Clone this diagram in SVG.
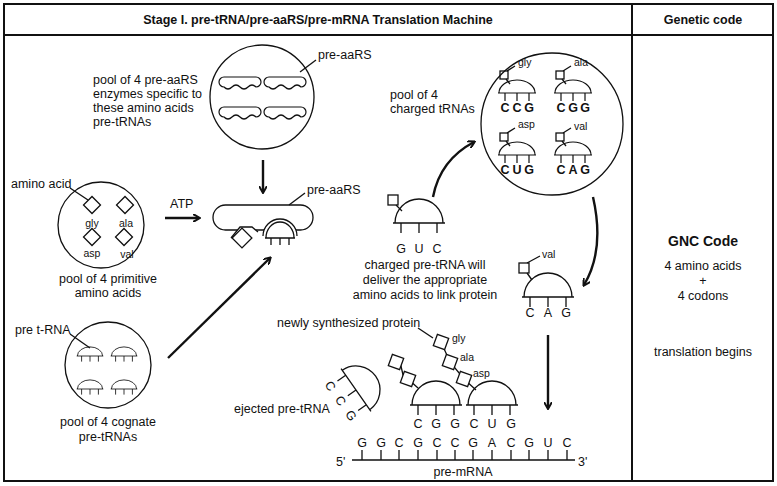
<svg xmlns="http://www.w3.org/2000/svg" width="777" height="486" viewBox="0 0 777 486">
<style>
text{font-family:"Liberation Sans",Arial,sans-serif;font-size:12.5px;fill:#111}
.c{text-anchor:middle}
.b{font-weight:bold}
.s{font-size:10.5px}
.ln{fill:none;stroke:#111;stroke-width:1.3}
.ar{fill:none;stroke:#111;stroke-width:2.4;marker-end:url(#ah)}
</style>
<defs>
<marker id="ah" markerWidth="8" markerHeight="8" refX="6" refY="4" orient="auto" markerUnits="userSpaceOnUse" viewBox="0 0 8 8"><path d="M0,0 L7,4 L0,8" fill="none" stroke="#111" stroke-width="2"/></marker>
<g id="t"><path d="M-24,0 A24,24 0 0 1 24,0 M-26,0 H26 M-18,0 V10 M0,0 V10 M18,0 V10" fill="none" stroke="#111" stroke-width="1.3"/></g>
<g id="st"><path d="M-18,0 A18,13 0 0 1 18,0 M-19,0 H19 M-12,0 V8 M0,0 V8 M12,0 V8" fill="none" stroke="#111" stroke-width="1.2"/></g>
<g id="en"><path d="M-16,-5 H16 A5,5 0 0 1 16,5 Q12,1 8,5 Q4,9 0,5 Q-4,1 -8,5 Q-12,9 -16,5 A5,5 0 0 1 -16,-5 Z" fill="none" stroke="#111" stroke-width="1.2"/></g>
</defs>
<rect x="4" y="4" width="769" height="477" fill="#fff" stroke="#111" stroke-width="2"/>
<line x1="4" y1="35" x2="773" y2="35" stroke="#111" stroke-width="2"/>
<line x1="632" y1="4" x2="632" y2="481" stroke="#111" stroke-width="2"/>
<text class="c b" x="318" y="24">Stage I. pre-tRNA/pre-aaRS/pre-mRNA Translation Machine</text>
<text class="c b" x="703" y="24">Genetic code</text>

<g id="enzpool">
<circle class="ln" cx="262" cy="97" r="52"/>
<use href="#en" transform="translate(240,82)"/>
<use href="#en" transform="translate(285,82)"/>
<use href="#en" transform="translate(240,112)"/>
<use href="#en" transform="translate(285,112)"/>
<path class="ln" d="M300,72 L316,60"/>
<text x="318" y="59">pre-aaRS</text>
<text x="93" y="84">pool of 4 pre-aaRS</text>
<text x="93" y="98">enzymes specific to</text>
<text x="93" y="112">these amino acids</text>
<text x="93" y="126">pre-tRNAs</text>
</g>

<g id="aapool">
<circle class="ln" cx="101" cy="225" r="43"/>
<g transform="translate(92,205)"><rect x="-6" y="-6" width="12" height="12" fill="#fff" stroke="#111" stroke-width="1.3" transform="rotate(45)"/></g>
<g transform="translate(125,205)"><rect x="-6" y="-6" width="12" height="12" fill="#fff" stroke="#111" stroke-width="1.3" transform="rotate(45)"/></g>
<g transform="translate(92,237)"><rect x="-6" y="-6" width="12" height="12" fill="#fff" stroke="#111" stroke-width="1.3" transform="rotate(45)"/></g>
<g transform="translate(124,237)"><rect x="-6" y="-6" width="12" height="12" fill="#fff" stroke="#111" stroke-width="1.3" transform="rotate(45)"/></g>
<text class="c s" x="92" y="227">gly</text>
<text class="c s" x="126" y="227">ala</text>
<text class="c s" x="92" y="257">asp</text>
<text class="c s" x="127" y="258">val</text>
<path class="ln" d="M70,188 L88,200"/>
<text x="11" y="188">amino acid</text>
<text class="c" x="108" y="283">pool of 4 primitive</text>
<text class="c" x="108" y="297">amino acids</text>
</g>

<g id="trnapool">
<circle class="ln" cx="108" cy="365" r="43"/>
<use href="#st" transform="translate(90,356) scale(0.7)"/>
<use href="#st" transform="translate(124,356) scale(0.7)"/>
<use href="#st" transform="translate(90,389) scale(0.7)"/>
<use href="#st" transform="translate(124,389) scale(0.7)"/>
<path class="ln" d="M70,334 L90,348"/>
<text x="15" y="334">pre t-RNA</text>
<text class="c" x="108" y="426">pool of 4 cognate</text>
<text class="c" x="108" y="441">pre-tRNAs</text>
</g>

<g id="complex">
<rect class="ln" x="213" y="205" width="100" height="25" rx="12.5"/>
<path d="M231,238 L240,227 L252,227 L258,232" fill="#fff" stroke="#111" stroke-width="1.3"/>
<g transform="translate(242,238)"><rect x="-7" y="-7" width="14" height="14" fill="#fff" stroke="#111" stroke-width="1.3" transform="rotate(45)"/></g>
<path d="M263,236 A17,17 0 0 1 297,236" fill="#fff" stroke="#111" stroke-width="1.3"/>
<path d="M266,238 A14,16 0 0 1 294,238 Z M265,238 H295 M271,238 V245 M280,238 V245 M289,238 V245" fill="#fff" stroke="#111" stroke-width="1.3"/>
<path class="ln" d="M289,205 L305,193"/>
<text x="307" y="194">pre-aaRS</text>
</g>

<g id="chargedpool">
<circle class="ln" cx="552" cy="124" r="71"/>
<use href="#st" transform="translate(517,93)"/>
<use href="#st" transform="translate(573,93)"/>
<use href="#st" transform="translate(517,155)"/>
<use href="#st" transform="translate(573,155)"/>
<rect x="500" y="71" width="8" height="8" class="ln"/><path class="ln" d="M506,79 L510,84 M507,71 L515,66"/>
<rect x="556" y="71" width="8" height="8" class="ln"/><path class="ln" d="M562,79 L566,84 M563,71 L571,66"/>
<rect x="500" y="133" width="8" height="8" class="ln"/><path class="ln" d="M506,141 L510,146 M507,133 L515,128"/>
<rect x="556" y="133" width="8" height="8" class="ln"/><path class="ln" d="M562,141 L566,146 M563,133 L571,128"/>
<text class="s" x="518" y="66">gly</text>
<text class="s" x="574" y="66">ala</text>
<text class="s" x="518" y="128">asp</text>
<text class="s" x="574" y="130">val</text>
<g class="b s c">
<text x="505" y="112">C</text><text x="517" y="112">C</text><text x="529" y="112">G</text>
<text x="561" y="112">C</text><text x="573" y="112">G</text><text x="585" y="112">G</text>
<text x="505" y="174">C</text><text x="517" y="174">U</text><text x="529" y="174">G</text>
<text x="561" y="174">C</text><text x="573" y="174">A</text><text x="585" y="174">G</text>
</g>
<text x="390" y="99">pool of 4</text>
<text x="390" y="113">charged tRNAs</text>
</g>

<g id="chargedtrna">
<use href="#t" transform="translate(419,223)"/>
<rect x="388" y="195" width="10" height="10" class="ln"/><path class="ln" d="M396,205 L402,211"/>
<text class="c" x="401" y="253">G</text><text class="c" x="419" y="253">U</text><text class="c" x="437" y="253">C</text>
<text class="c" x="425" y="269">charged pre-tRNA will</text>
<text class="c" x="425" y="284">deliver the appropriate</text>
<text class="c" x="425" y="299">amino acids to link protein</text>
</g>

<g id="valtrna">
<use href="#t" transform="translate(548,297)"/>
<rect x="519" y="263" width="10" height="10" class="ln"/><path class="ln" d="M527,273 L532,280 M527,263 L540,256"/>
<text class="s" x="542" y="258">val</text>
<text class="c" x="530" y="317">C</text><text class="c" x="548" y="317">A</text><text class="c" x="566" y="317">G</text>
</g>

<g id="translation">
<use href="#t" transform="translate(436,405)"/>
<use href="#t" transform="translate(492,405)"/>
<g class="c">
<text x="418" y="428">C</text><text x="436" y="428">G</text><text x="455" y="428">G</text>
<text x="474" y="428">C</text><text x="492" y="428">U</text><text x="511" y="428">G</text>
</g>
<path class="ln" d="M400,362 L404,379 M408,379 L418,388"/>
<g transform="translate(396,362) rotate(20)"><rect x="-6" y="-6" width="12" height="12" fill="#fff" stroke="#111" stroke-width="1.3"/></g>
<g transform="translate(408,379) rotate(20)"><rect x="-6" y="-6" width="12" height="12" fill="#fff" stroke="#111" stroke-width="1.3"/></g>
<path class="ln" d="M441,342 L450,362 L464,379 L476,390"/>
<g transform="translate(441,342) rotate(20)"><rect x="-6" y="-6" width="12" height="12" fill="#fff" stroke="#111" stroke-width="1.3"/></g>
<g transform="translate(450,362) rotate(20)"><rect x="-6" y="-6" width="12" height="12" fill="#fff" stroke="#111" stroke-width="1.3"/></g>
<g transform="translate(464,379) rotate(20)"><rect x="-6" y="-6" width="12" height="12" fill="#fff" stroke="#111" stroke-width="1.3"/></g>
<text class="s" x="452" y="342">gly</text>
<text class="s" x="460" y="361">ala</text>
<text class="s" x="473" y="377">asp</text>
<path class="ln" d="M418,328 L433,338"/>
<text x="277" y="327">newly synthesized protein</text>
<g transform="translate(356,390) rotate(55)">
<use href="#t"/>
<text class="c" x="-18" y="23">C</text><text class="c" x="0" y="23">C</text><text class="c" x="18" y="23">G</text>
</g>
<text x="234" y="413">ejected pre-tRNA</text>
</g>

<g id="mrna">
<path class="ln" d="M352,460 H575 M362,450 V460 M381,450 V460 M399,450 V460 M418,450 V460 M437,450 V460 M455,450 V460 M473,450 V460 M492,450 V460 M511,450 V460 M529,450 V460 M548,450 V460 M567,450 V460"/>
<g class="c">
<text x="362" y="447">G</text><text x="381" y="447">G</text><text x="399" y="447">C</text><text x="418" y="447">G</text><text x="437" y="447">C</text><text x="455" y="447">C</text><text x="473" y="447">G</text><text x="492" y="447">A</text><text x="511" y="447">C</text><text x="529" y="447">G</text><text x="548" y="447">U</text><text x="567" y="447">C</text>
</g>
<text x="336" y="466">5'</text>
<text x="578" y="466">3'</text>
<text class="c" x="463" y="476">pre-mRNA</text>
</g>

<g id="connectors">
<path class="ar" d="M263,160 V192"/>
<path class="ar" d="M165,218 H199"/>
<text x="170" y="208">ATP</text>
<path class="ar" d="M168,358 L270,258"/>
<path class="ar" d="M433,197 Q440,160 474,142"/>
<path class="ar" d="M593,197 Q605,250 584,285"/>
<path class="ar" d="M548,335 V408"/>
</g>

<g id="right">
<text class="c b" x="703" y="246" style="font-size:14px">GNC Code</text>
<text class="c" x="703" y="270">4 amino acids</text>
<text class="c" x="703" y="285">+</text>
<text class="c" x="703" y="300">4 codons</text>
<text class="c" x="703" y="356">translation begins</text>
</g>
</svg>
